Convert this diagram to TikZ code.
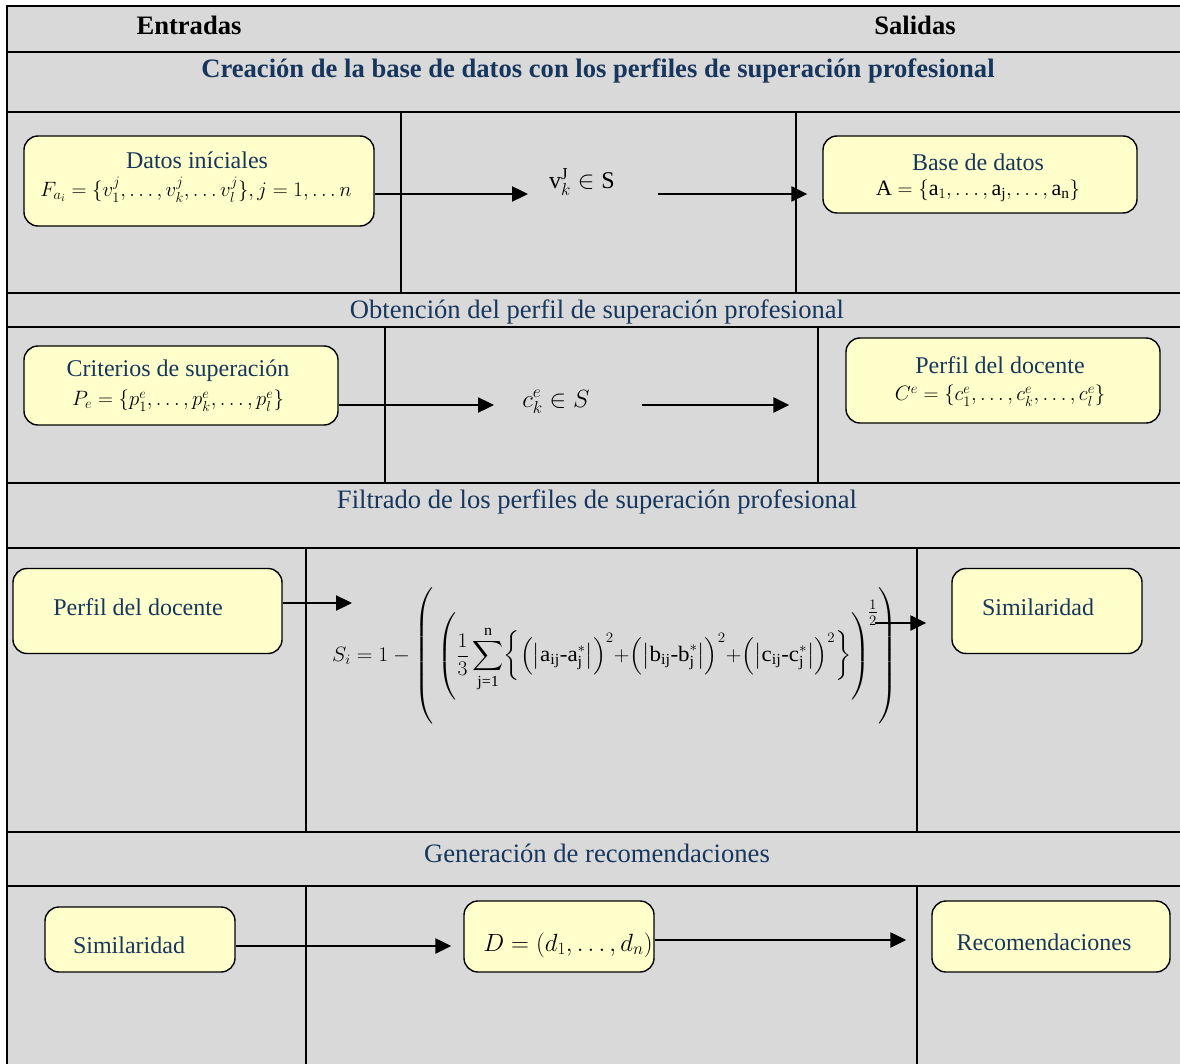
\documentclass[tikz,border=0pt]{standalone}
\usepackage{amsmath}
\usepackage{graphicx}
\usepackage{fontspec}
\setmainfont{Liberation Serif}
\setmathrm{Liberation Serif}
\usetikzlibrary{arrows.meta}
\definecolor{bg}{HTML}{D9D9D9}
\definecolor{boxfill}{HTML}{FFFFCC}
\definecolor{navy}{HTML}{17365D}
\tikzset{
  gridline/.style={line width=2pt},
  procbox/.style={draw=black, line width=1.4pt, fill=boxfill, rounded corners=14pt, inner sep=0pt},
  txt/.style={text=navy, inner sep=0pt, font=\fontsize{24}{28}\selectfont},
  hdr/.style={text=navy, inner sep=0pt, font=\fontsize{26.6}{30}\selectfont},
  bhdr/.style={text=navy, inner sep=0pt, font=\fontsize{26.6}{30}\selectfont\bfseries},
  colhdr/.style={text=black, inner sep=0pt, font=\fontsize{26.6}{30}\selectfont\bfseries},
  mth/.style={text=black, inner sep=0pt, font=\fontsize{22}{26}\selectfont},
  bigmth/.style={text=black, inner sep=0pt, font=\fontsize{24}{28}\selectfont},
  formmth/.style={text=black, inner sep=0pt, font=\fontsize{22}{26}\selectfont},
  arr/.style={line width=2.4pt, -{Triangle[length=16pt,width=15pt]}},
}
\begin{document}
\begin{tikzpicture}[x=1pt,y=-1pt]
\useasboundingbox (0,0) rectangle (1180,1064);
\fill[bg] (7,6) rectangle (1180,1064);
% table frame
\draw[gridline] (7,1064) -- (7,6) -- (1180,6);
\foreach \yy in {52,112,293,327,483,548,832,886}
  \draw[gridline] (7,\yy) -- (1180,\yy);
\draw[gridline] (401,112) -- (401,293);
\draw[gridline] (796,112) -- (796,293);
\draw[gridline] (385,327) -- (385,483);
\draw[gridline] (818,327) -- (818,483);
\draw[gridline] (306,548) -- (306,832);
\draw[gridline] (917,548) -- (917,832);
\draw[gridline] (306,886) -- (306,1064);
\draw[gridline] (917,886) -- (917,1064);

% headers
\node[colhdr] (hin) at (189,25) {Entradas};
\node[colhdr] (hout) at (915,25) {Salidas};
\node[bhdr] (h1) at (598,71) {Creación de la base de datos con los perfiles de superación profesional};
\node[hdr] (h2) at (597,312) {Obtención del perfil de superación profesional};
\node[hdr] (h3) at (597,502) {Filtrado de los perfiles de superación profesional};
\node[hdr] (h4) at (597,853) {Generación de recomendaciones};

% ---------- Row 1
\node[procbox, minimum width=350pt, minimum height=90pt] (datos) at (199,181) {};
\node[txt] (datosT) at (197,160) {Datos iníciales};
\node[mth] (datosM) at (196,190) {$F_{a_i}=\{v_1^j,\ldots,v_k^j,\ldots v_l^j\},j=1,\ldots n$};
\node[bigmth] (vlab) at (582,182) {$\textrm{v}_{k}^{\textrm{J}}\in\textrm{S}$};
\node[procbox, minimum width=314pt, minimum height=77pt] (base) at (980,174.5) {};
\node[txt] (baseT) at (978,162) {Base de datos};
\node[mth] (baseM) at (978,191) {$\textrm{A}=\{\textrm{a}_1,\ldots,\textrm{a}_{\textrm{j}},\ldots,\textrm{a}_{\textrm{n}}\}$};
\coordinate (r1) at (0,194);
\coordinate (r1a) at (528,194);
\coordinate (r1b) at (658,194);
\draw[arr] (datos.east |- r1) -- (r1a);
\draw[arr, shorten >=15pt] (r1b) -- (base.west |- r1);

% ---------- Row 2
\node[procbox, minimum width=314pt, minimum height=79pt] (crit) at (181,385.5) {};
\node[txt] (critT) at (178,371) {Criterios de superación};
\node[mth] (critM) at (178,401) {$P_e=\{p_1^e,\ldots,p_k^e,\ldots,p_l^e\}$};
\node[bigmth] (clab) at (556,402) {$c_k^e\in S$};
\node[procbox, minimum width=314pt, minimum height=85pt] (perf2) at (1003,380.5) {};
\node[txt] (perf2T) at (1000,365) {Perfil del docente};
\node[mth] (perf2M) at (1000,396) {$C^e=\{c_1^e,\ldots,c_k^e,\ldots,c_l^e\}$};
\coordinate (r2) at (0,405);
\coordinate (r2a) at (494,405);
\coordinate (r2b) at (642,405);
\draw[arr] (crit.east |- r2) -- (r2a);
\draw[arr, shorten >=56pt] (r2b) -- (perf2.west |- r2);

% ---------- Row 3
\node[procbox, minimum width=269pt, minimum height=85pt] (perf3) at (147.5,611) {};
\node[txt] (perf3T) at (138,607) {Perfil del docente};
\node[procbox, minimum width=190pt, minimum height=85pt] (sim3) at (1047,611) {};
\node[txt] (sim3T) at (1038,607) {Similaridad};
\node[formmth, anchor=west] (form) at (332,656) {\scalebox{1.045}[1]{$\displaystyle S_i=1-\left(\rule[-60pt]{0pt}{132pt}\left(\rule[-38pt]{0pt}{86pt}\frac{1}{3}\sum_{\textrm{j=1}}^{\textrm{n}}\biggl\{\Bigl(\bigl|\textrm{a}_{\textrm{ij}}\textrm{-}\textrm{a}_{\textrm{j}}^{*}\bigr|\Bigr)^{2}{+}\Bigl(\bigl|\textrm{b}_{\textrm{ij}}\textrm{-}\textrm{b}_{\textrm{j}}^{*}\bigr|\Bigr)^{2}{+}\Bigl(\bigl|\textrm{c}_{\textrm{ij}}\textrm{-}\textrm{c}_{\textrm{j}}^{*}\bigr|\Bigr)^{2}\biggr\}\right)^{\!\genfrac{}{}{}{1}{1}{2}}\right)$}};
\coordinate (r3a) at (352,603);
\coordinate (r3b) at (875,623);
\draw[arr] (perf3.east |- r3a) -- (r3a);
\draw[arr, shorten >=25pt] (r3b) -- (sim3.west |- r3b);

% ---------- Row 4
\node[procbox, minimum width=190pt, minimum height=65pt] (sim4) at (140,939.5) {};
\node[txt] (sim4T) at (129,945) {Similaridad};
\node[procbox, minimum width=190pt, minimum height=71pt] (dbox) at (559,936.5) {};
\node[bigmth] (dboxM) at (568,945) {$D=(d_1,\ldots,d_n)$};
\node[procbox, minimum width=238pt, minimum height=71pt] (rec) at (1051,936.5) {};
\node[txt] (recT) at (1044,942) {Recomendaciones};
\coordinate (r4) at (0,946);
\coordinate (r4b) at (0,940);
\draw[arr, shorten >=12pt] (sim4.east |- r4) -- (dbox.west |- r4);
\draw[arr, shorten >=25pt] (dbox.east |- r4b) -- (rec.west |- r4b);
\end{tikzpicture}
\end{document}
